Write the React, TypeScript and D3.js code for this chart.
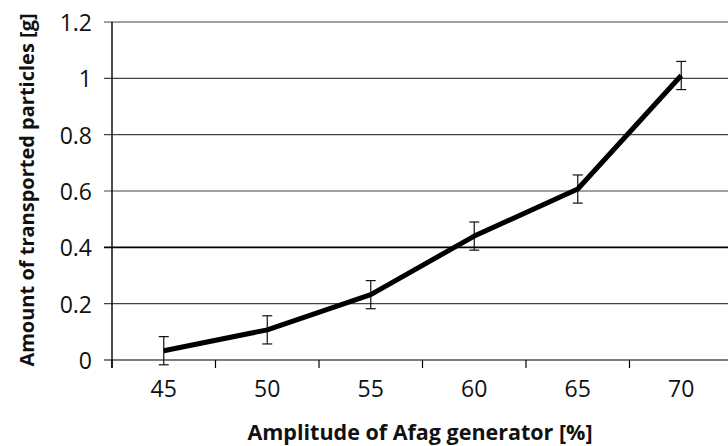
import * as d3 from "d3";

const categories = ["45", "50", "55", "60", "65", "70"];
const values = [0.033, 0.107, 0.232, 0.44, 0.607, 1.01];
const errors = [0.05, 0.05, 0.05, 0.05, 0.05, 0.05];
const yTicks = [0, 0.2, 0.4, 0.6, 0.8, 1, 1.2];

const W = 728;
const H = 446;

export default function App() {
  const x = d3.scaleBand().domain(categories).range([112, 733]);
  const y = d3.scaleLinear().domain([0, 1.2]).range([360, 22]);
  const cx = (c: string) => (x(c) ?? 0) + x.bandwidth() / 2;
  const line = d3
    .line<number>()
    .x((_, i) => cx(categories[i]))
    .y((d) => y(d));
  const font = "'Open Sans', 'DejaVu Sans', sans-serif";

  return (
    <svg
      width={W}
      height={H}
      style={{ position: "absolute", left: 0, top: 0, background: "#fff" }}
      fontFamily={font}
    >
      {/* gridlines + y ticks */}
      {yTicks.map((t) => (
        <g key={t}>
          <line
            x1={104}
            x2={W}
            y1={y(t)}
            y2={y(t)}
            stroke={t === 0.4 || t === 0 ? "#000" : "#444"}
            strokeWidth={t === 0.4 ? 1.6 : 1.2}
          />
          <text
            x={92}
            y={y(t)}
            textAnchor="end"
            dominantBaseline="central"
            fontSize={23}
            fill="#111"
          >
            {t}
          </text>
        </g>
      ))}
      {/* y axis */}
      <line x1={112} x2={112} y1={22} y2={368} stroke="#000" strokeWidth={1.4} />
      {/* x ticks at band boundaries */}
      {categories.map((c) => (
        <line
          key={c}
          x1={x(c)}
          x2={x(c)}
          y1={360}
          y2={368}
          stroke="#000"
          strokeWidth={1.2}
        />
      ))}
      {categories.map((c) => (
        <text
          key={c}
          x={cx(c)}
          y={388}
          textAnchor="middle"
          dominantBaseline="central"
          fontSize={23}
          fill="#111"
        >
          {c}
        </text>
      ))}
      {/* error bars */}
      {values.map((v, i) => {
        const px = cx(categories[i]);
        return (
          <g key={i} stroke="#111" strokeWidth={1.2}>
            <line x1={px} x2={px} y1={y(v + errors[i])} y2={y(v - errors[i])} />
            <line x1={px - 5} x2={px + 5} y1={y(v + errors[i])} y2={y(v + errors[i])} />
            <line x1={px - 5} x2={px + 5} y1={y(v - errors[i])} y2={y(v - errors[i])} />
          </g>
        );
      })}
      <path
        d={line(values) ?? ""}
        fill="none"
        stroke="#000"
        strokeWidth={5}
        strokeLinejoin="round"
      />
      <text
        x={420}
        y={431}
        textAnchor="middle"
        dominantBaseline="central"
        fontSize={21.5}
        fontWeight="bold"
        fill="#111"
      >
        Amplitude of Afag generator [%]
      </text>
      <text
        transform="translate(26,190) rotate(-90)"
        textAnchor="middle"
        dominantBaseline="central"
        fontSize={20}
        fontWeight="bold"
        fill="#111"
      >
        Amount of transported particles [g]
      </text>
    </svg>
  );
}
